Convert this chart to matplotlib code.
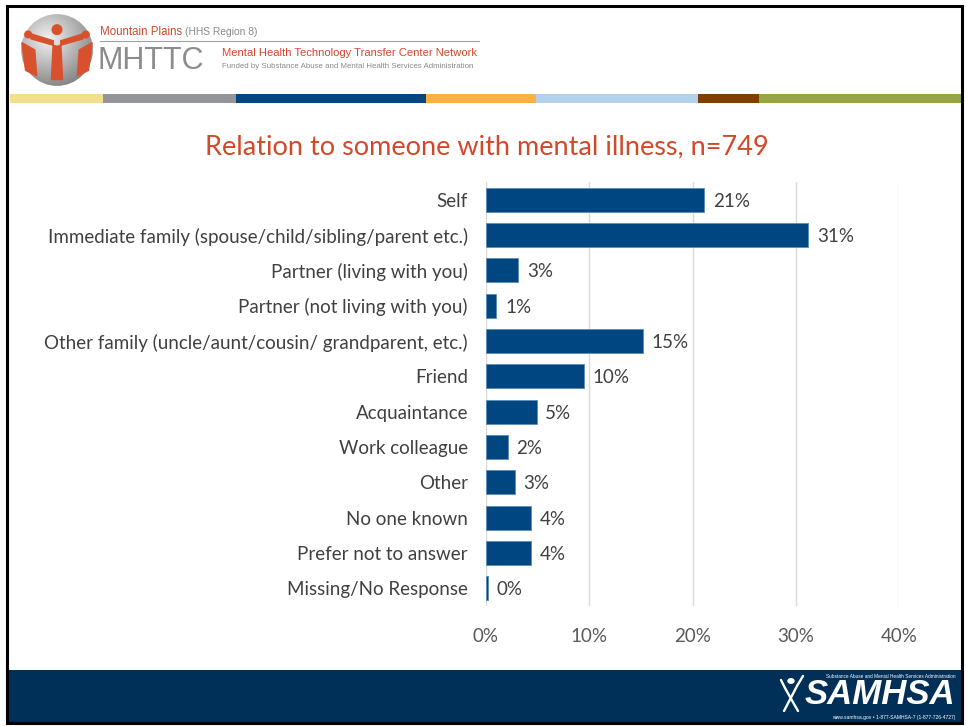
import numpy as np
import matplotlib.pyplot as plt
from matplotlib.patches import Rectangle, Circle, Polygon
from matplotlib.lines import Line2D

categories = [
    "Self",
    "Immediate family (spouse/child/sibling/parent etc.)",
    "Partner (living with you)",
    "Partner (not living with you)",
    "Other family (uncle/aunt/cousin/ grandparent, etc.)",
    "Friend",
    "Acquaintance",
    "Work colleague",
    "Other",
    "No one known",
    "Prefer not to answer",
    "Missing/No Response",
]
values = [21.1, 31.2, 3.1, 1.0, 15.2, 9.5, 4.9, 2.1, 2.8, 4.4, 4.4, 0.2]
xticks = [0, 10, 20, 30, 40]

strip_edges = [10, 103, 236, 426, 536, 698, 759, 961]
strip_colors = ["#F2DF8D", "#939598", "#004680", "#FBB040", "#B3D1EA", "#7F3F00", "#97A641"]

W, H = 966, 726
BAR = "#004680"
ORANGE = "#D2492A"


def fx(x):
    return x / W


def fy(y):
    return 1 - y / H


fig = plt.figure(figsize=(W / 100, H / 100), dpi=100)
fig.patch.set_facecolor("white")

# chart area
ax = fig.add_axes([fx(486), fy(606), (899 - 486) / W, (606 - 182) / H])
y = np.arange(len(categories))
ax.barh(y, values, height=0.67, color=BAR, edgecolor="#5B8DBA", linewidth=0.6, zorder=3)
for yi, v in zip(y, values):
    ax.text(v + 0.85, yi + 0.04, f"{round(v)}%", va="center", ha="left",
            fontsize=13.5, color="#404040", family="Lato")
ax.set_ylim(len(categories) - 0.5, -0.5)
ax.set_xlim(0, 40)
ax.set_yticks(y)
ax.set_yticklabels(categories, fontsize=13.5, color="#404040", family="Lato")
ax.set_xticks(xticks)
ax.set_xticklabels([f"{t}%" for t in xticks], fontsize=13.5, color="#595959", family="Lato")
ax.tick_params(axis="y", length=0, pad=13)
ax.tick_params(axis="x", length=0, pad=16)
ax.grid(axis="x", color="#D9D9D9", linewidth=1, zorder=0)
for s in ax.spines.values():
    s.set_visible(False)

fig.text(fx(487), fy(147), "Relation to someone with mental illness, n=749",
         ha="center", va="center", fontsize=19.5, color=ORANGE, family="Lato")

# colour strip under the header
for x0, x1, c in zip(strip_edges[:-1], strip_edges[1:], strip_colors):
    fig.patches.append(Rectangle((fx(x0), fy(103)), fx(x1 - x0), 9 / H,
                                 transform=fig.transFigure, color=c, lw=0))

# header logo
logo = fig.add_axes([fx(20), fy(87), 74 / W, 74 / H])
logo.set_xlim(-1, 1)
logo.set_ylim(-1, 1)
logo.set_aspect("equal")
logo.axis("off")
gx, gy = np.meshgrid(np.linspace(-1, 1, 200), np.linspace(-1, 1, 200))
r = np.hypot(gx + 0.25, gy - 0.3)
img = logo.imshow(0.95 - 0.45 * np.clip(r, 0, 1.4) / 1.4, cmap="gray", vmin=0, vmax=1,
                  extent=(-1, 1, -1, 1), origin="lower")
img.set_clip_path(Circle((0, 0), 0.97, transform=logo.transData))
logo.add_patch(Circle((0.0, 0.55), 0.13, color="#D9512C"))
logo.add_patch(Polygon([(-0.75, 0.45), (-0.1, 0.25), (-0.15, -0.8), (0.15, -0.8),
                        (0.1, 0.25), (0.75, 0.45), (0.7, 0.3), (0.0, 0.1), (-0.7, 0.3)],
                       closed=True, color="#D9512C"))
logo.add_patch(Polygon([(-0.95, 0.2), (-0.6, 0.0), (-0.55, -0.7), (-0.85, -0.55)],
                       closed=True, color="#D9512C"))
logo.add_patch(Polygon([(0.95, 0.2), (0.6, 0.0), (0.55, -0.7), (0.85, -0.55)],
                       closed=True, color="#D9512C"))
logo.add_patch(Circle((-0.78, 0.42), 0.09, color="#D9512C"))
logo.add_patch(Circle((0.78, 0.42), 0.09, color="#D9512C"))

fig.text(fx(100), fy(32), "Mountain Plains", fontsize=8.3, color=ORANGE,
         family="Liberation Sans", va="center")
fig.text(fx(185), fy(32), "(HHS Region 8)", fontsize=7.4, color="#8A8A8A",
         family="Liberation Sans", va="center")
fig.lines.append(Line2D([fx(100), fx(479)], [fy(41), fy(41)], transform=fig.transFigure,
                        color="#A0A0A0", lw=0.8))
fig.text(fx(98), fy(61), "MHTTC", fontsize=22, color="#8C8C8C",
         family="Liberation Sans", va="center")
fig.text(fx(222), fy(53), "Mental Health Technology Transfer Center Network", fontsize=8.1,
         color=ORANGE, family="Liberation Sans", va="center")
fig.text(fx(222), fy(66), "Funded by Substance Abuse and Mental Health Services Administration",
         fontsize=5.7, color="#8A8A8A", family="Liberation Sans", va="center")

# footer
fig.patches.append(Rectangle((fx(8), fy(722)), fx(953), 52 / H,
                             transform=fig.transFigure, color="#003057", lw=0))
fig.text(fx(955), fy(695), "SAMHSA", fontsize=25, color="white", weight="bold",
         style="italic", family="Liberation Sans", ha="right", va="center")
fig.text(fx(955), fy(677), "Substance Abuse and Mental Health Services Administration",
         fontsize=3.4, color="white", family="Liberation Sans", ha="right", va="center")
fig.text(fx(955), fy(717), "www.samhsa.gov \u2022 1-877-SAMHSA-7 (1-877-726-4727)",
         fontsize=3.6, color="white", family="Liberation Sans", ha="right", va="center")
for (xa, ya), (xb, yb) in [((785, 688), (798, 711)), ((797, 686), (784, 711)),
                           ((785, 688), (781, 680)), ((797, 686), (803, 676))]:
    fig.lines.append(Line2D([fx(xa), fx(xb)], [fy(ya), fy(yb)], transform=fig.transFigure,
                            color="white", lw=1.7, solid_capstyle="round"))
fig.patches.append(Circle((fx(791), fy(681)), 3 / W, transform=fig.transFigure, color="white"))

# slide border
fig.patches.append(Rectangle((fx(7), fy(723)), fx(955), 717 / H, transform=fig.transFigure,
                             fill=False, edgecolor="black", lw=2.2))

fig.savefig("out.png", dpi=100)
